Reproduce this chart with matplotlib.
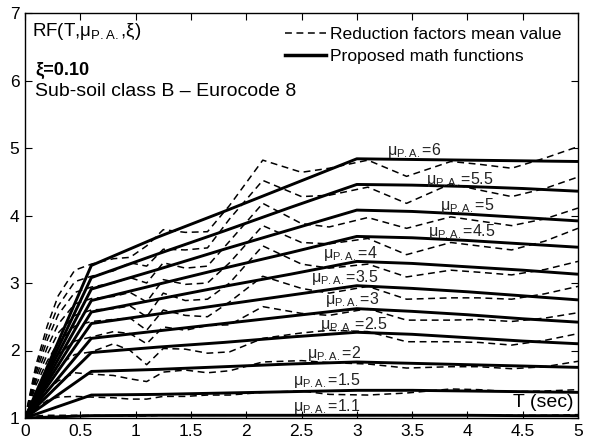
import matplotlib
matplotlib.use("Agg")
import matplotlib.pyplot as plt
from matplotlib.lines import Line2D

plt.rcParams['font.family'] = ['Liberation Sans', 'DejaVu Sans']
plt.rcParams['mathtext.fontset'] = 'custom'
plt.rcParams['mathtext.rm'] = 'Liberation Sans'
plt.rcParams['mathtext.it'] = 'Liberation Sans:italic'
plt.rcParams['mathtext.bf'] = 'Liberation Sans:bold'

# ductility levels
mu_values = ["6", "5.5", "5", "4.5", "4", "3.5", "3", "2.5", "2", "1.5", "1.1"]

# proposed math functions (solid)
T_solid = [0, 0.6, 1.2, 1.8, 2.4, 3.0, 3.5, 4.0, 4.5, 5.0]
solid = {
    "6":   [1, 3.26, 3.68, 4.06, 4.45, 4.84, 4.83, 4.82, 4.81, 4.80],
    "5.5": [1, 3.08, 3.43, 3.77, 4.12, 4.46, 4.45, 4.43, 4.40, 4.36],
    "5":   [1, 2.91, 3.20, 3.50, 3.79, 4.08, 4.06, 4.02, 3.97, 3.92],
    "4.5": [1, 2.74, 2.98, 3.22, 3.45, 3.69, 3.67, 3.63, 3.58, 3.53],
    "4":   [1, 2.57, 2.76, 2.95, 3.13, 3.32, 3.29, 3.24, 3.19, 3.13],
    "3.5": [1, 2.40, 2.54, 2.68, 2.82, 2.96, 2.92, 2.87, 2.81, 2.75],
    "3":   [1, 2.18, 2.29, 2.40, 2.51, 2.62, 2.58, 2.53, 2.47, 2.42],
    "2.5": [1, 1.97, 2.05, 2.12, 2.20, 2.27, 2.24, 2.19, 2.14, 2.10],
    "2":   [1, 1.69, 1.72, 1.76, 1.80, 1.83, 1.81, 1.79, 1.77, 1.75],
    "1.5": [1, 1.34, 1.35, 1.37, 1.39, 1.41, 1.41, 1.40, 1.39, 1.38],
    "1.1": [1, 1.035, 1.04, 1.04, 1.04, 1.04, 1.04, 1.04, 1.035, 1.035],
}

# reduction factors mean value (dashed)
T_mean = [0, 0.1, 0.2, 0.3, 0.45, 0.6, 0.8, 0.95, 1.1, 1.25, 1.45, 1.65,
          1.85, 2.15, 2.5, 2.75, 3.1, 3.45, 3.85, 4.1, 4.4, 4.7, 5.0]
mean = {
    "6":   [1, 1.79, 2.36, 2.81, 3.19, 3.28, 3.36, 3.38, 3.55, 3.79, 3.75, 3.76,
            4.15, 4.82, 4.64, 4.70, 4.82, 4.58, 4.80, 4.76, 4.70, 4.85, 5.02],
    "5.5": [1, 1.73, 2.25, 2.66, 3.02, 3.10, 3.18, 3.30, 3.25, 3.50, 3.49, 3.52,
            3.95, 4.52, 4.28, 4.30, 4.42, 4.18, 4.47, 4.38, 4.28, 4.40, 4.57],
    "5":   [1, 1.67, 2.15, 2.53, 2.86, 2.94, 3.00, 3.08, 3.00, 3.30, 3.22, 3.25,
            3.62, 4.18, 3.88, 3.83, 3.97, 3.81, 3.98, 3.92, 3.85, 3.95, 4.11],
    "4.5": [1, 1.61, 2.04, 2.39, 2.69, 2.77, 2.80, 2.86, 2.72, 3.05, 2.98, 3.00,
            3.30, 3.85, 3.60, 3.58, 3.66, 3.42, 3.60, 3.55, 3.49, 3.62, 3.81],
    "4":   [1, 1.55, 1.94, 2.26, 2.52, 2.60, 2.62, 2.66, 2.50, 2.85, 2.74, 2.76,
            3.00, 3.55, 3.28, 3.22, 3.28, 3.09, 3.19, 3.16, 3.12, 3.20, 3.32],
    "3.5": [1, 1.49, 1.84, 2.12, 2.36, 2.43, 2.46, 2.48, 2.30, 2.60, 2.52, 2.50,
            2.72, 3.10, 2.92, 2.85, 2.95, 2.76, 2.78, 2.78, 2.76, 2.84, 2.95],
    "3":   [1, 1.41, 1.71, 1.94, 2.14, 2.20, 2.28, 2.25, 2.10, 2.35, 2.30, 2.37,
            2.38, 2.65, 2.55, 2.52, 2.62, 2.45, 2.45, 2.46, 2.43, 2.48, 2.56],
    "2.5": [1, 1.34, 1.58, 1.78, 1.94, 1.98, 2.10, 2.00, 1.79, 2.03, 2.02, 1.96,
            1.98, 2.18, 2.26, 2.30, 2.28, 2.13, 2.13, 2.12, 2.08, 2.15, 2.25],
    "2":   [1, 1.24, 1.41, 1.55, 1.67, 1.65, 1.63, 1.58, 1.54, 1.68, 1.71, 1.67,
            1.70, 1.83, 1.85, 1.82, 1.80, 1.74, 1.76, 1.76, 1.73, 1.76, 1.84],
    "1.5": [1, 1.14, 1.26, 1.31, 1.32, 1.31, 1.30, 1.28, 1.28, 1.32, 1.32, 1.34,
            1.34, 1.38, 1.40, 1.35, 1.34, 1.37, 1.43, 1.42, 1.39, 1.40, 1.42],
    "1.1": [1, 1.03, 1.04, 1.04, 1.04, 1.04, 1.035, 1.03, 1.03, 1.04, 1.04, 1.04,
            1.04, 1.045, 1.045, 1.04, 1.04, 1.04, 1.045, 1.045, 1.04, 1.04, 1.05],
}

# label anchor positions (left edge, vertical centre) in data units
label_T = [3.27, 3.63, 3.75, 3.64, 2.69, 2.59, 2.71, 2.67, 2.55, 2.42, 2.42]
label_y = [4.97, 4.54, 4.15, 3.76, 3.44, 3.08, 2.75, 2.39, 1.95, 1.55, 1.17]

x_ticks = [0, 0.5, 1, 1.5, 2, 2.5, 3, 3.5, 4, 4.5, 5]
x_ticklabels = ["0", "0.5", "1", "1.5", "2", "2.5", "3", "3.5", "4", "4.5", "5"]
y_ticks = [1, 2, 3, 4, 5, 6, 7]

fig = plt.figure(figsize=(6.0, 4.46), dpi=100)
ax = fig.add_axes([25 / 600, 28 / 446, 553 / 600, 405 / 446])

dash_style = (0, (4.5, 3))
for m in mu_values:
    ax.plot(T_mean, mean[m], color='black', lw=1.1, linestyle=dash_style)
for m in mu_values:
    ax.plot(T_solid, solid[m], color='black', lw=2.1, solid_capstyle='butt')

for m, tx, ty in zip(mu_values, label_T, label_y):
    ax.text(tx, ty, 'μ$_{\\mathrm{P.A.}}$=' + m, fontsize=11.5, ha='left',
            va='center', color='#222222')

ax.set_xlim(0, 5)
ax.set_ylim(1, 7)
ax.set_xticks(x_ticks)
ax.set_xticklabels(x_ticklabels)
ax.set_yticks(y_ticks)
ax.tick_params(direction='in', length=5, width=0.8, top=True, right=True,
               labelsize=12.5, pad=4)
for s in ax.spines.values():
    s.set_linewidth(1.0)

ax.text(0.063, 6.72, 'RF(T,μ$_{\\mathrm{P.A.}}$,ξ)', fontsize=13.5, ha='left', va='center')
ax.text(0.09, 6.15, 'ξ=0.10', fontsize=13, fontweight='bold', ha='left', va='center')
ax.text(0.09, 5.84, 'Sub-soil class B – Eurocode 8', fontsize=14, ha='left', va='center')
ax.text(4.96, 1.23, 'T (sec)', fontsize=14, ha='right', va='center')

handles = [Line2D([], [], color='black', lw=1.1, linestyle=dash_style),
           Line2D([], [], color='black', lw=2.5)]
ax.legend(handles, ['Reduction factors mean value', 'Proposed math functions'],
          loc='upper left', bbox_to_anchor=(0.47, 0.965), frameon=False,
          fontsize=12.6, handlelength=2.35, handletextpad=0.25, borderpad=0,
          borderaxespad=0, labelspacing=0.35)

fig.savefig('out.png', dpi=100)
